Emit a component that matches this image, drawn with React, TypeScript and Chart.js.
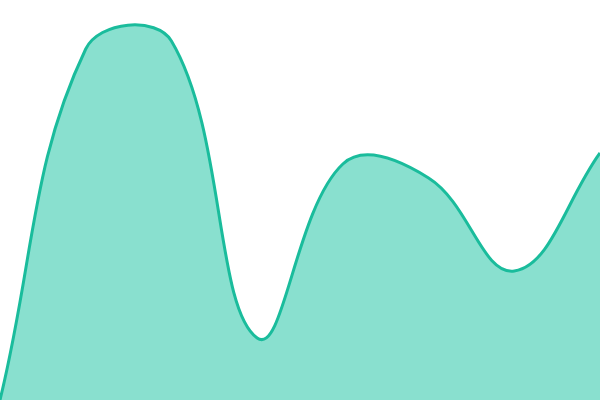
import React, { useEffect, useRef } from 'react';
import { Chart, registerables, ChartConfiguration } from 'chart.js';

Chart.register(...registerables);

const labels: string[] = ['1', '2', '3', '4', '5', '6', '7', '8'];
const values: number[] = [0, 351, 359, 62, 236, 222, 129, 247];

export default function App() {
  const chartRef = useRef<HTMLCanvasElement | null>(null);

  useEffect(() => {
    document.body.style.margin = '0';
    if (!chartRef.current) return;
    const ctx = chartRef.current.getContext('2d');
    if (!ctx) return;

    const config: ChartConfiguration<'line', number[], string> = {
      type: 'line',
      data: {
        labels,
        datasets: [
          {
            data: values,
            borderColor: '#1abc9c',
            backgroundColor: '#89e0cf',
            borderWidth: 3,
            fill: 'origin',
            tension: 0.4,
            pointRadius: 0,
          },
        ],
      },
      options: {
        responsive: true,
        maintainAspectRatio: false,
        animation: false,
        layout: { padding: 0 },
        plugins: {
          legend: { display: false },
          tooltip: { enabled: false },
        },
        scales: {
          x: { display: false, offset: false },
          y: { display: false, min: 0, max: 400 },
        },
      },
    };

    const chart = new Chart(ctx, config);
    return () => {
      chart.destroy();
    };
  }, []);

  return (
    <div style={{ width: 600, height: 400 }}>
      <canvas ref={chartRef} />
    </div>
  );
}
